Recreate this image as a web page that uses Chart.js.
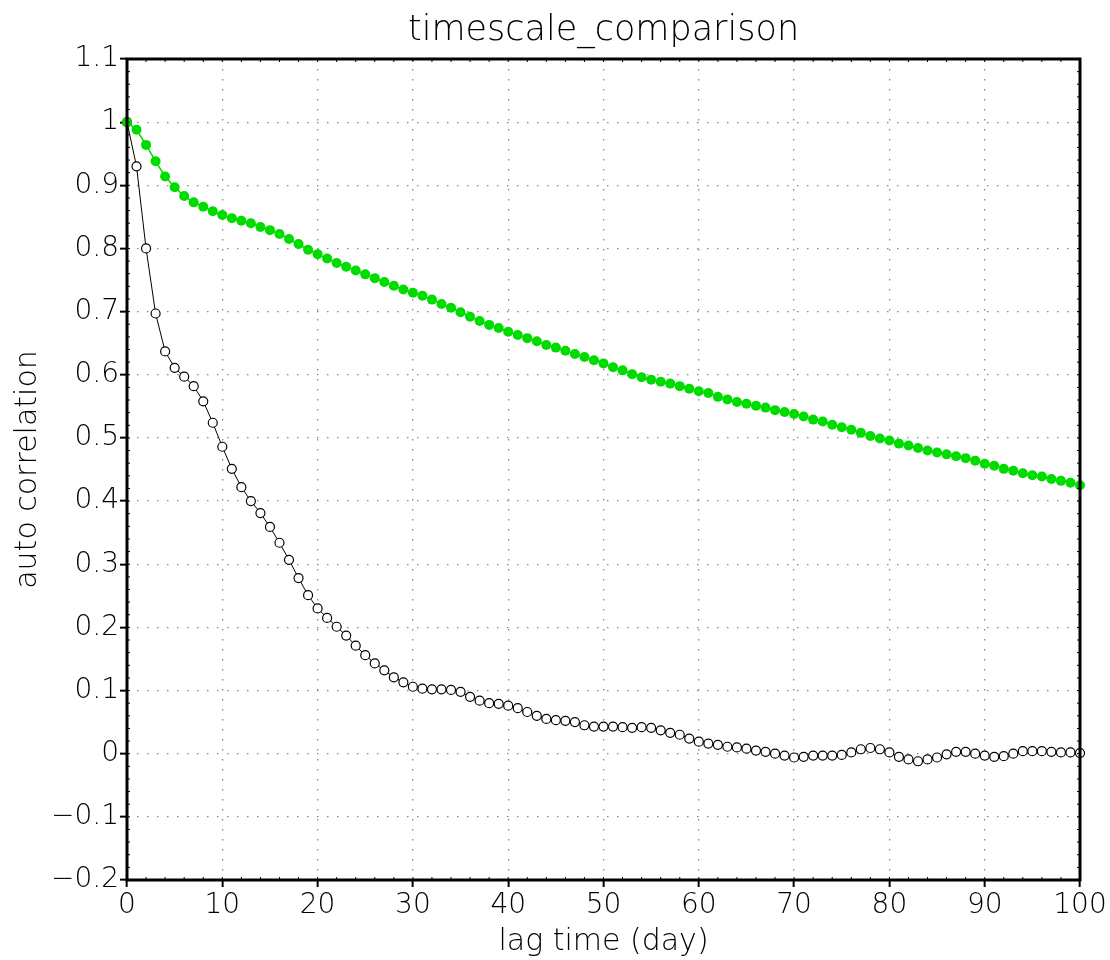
<!DOCTYPE html>
<html lang="en">
<head>
    <meta charset="UTF-8">
    <title>timescale_comparison</title>
    <script src="https://cdn.jsdelivr.net/npm/chart.js"></script>
    <style>
        body { margin: 0; background: #fff; }
    </style>
</head>
<body>
    <canvas id="myChart" width="1110" height="960"></canvas>
    <script>
    // lag time in days
    const lagDays = [0,1,2,3,4,5,6,7,8,9,10,11,12,13,14,15,16,17,18,19,20,21,22,23,24,25,26,27,28,29,30,31,32,33,34,35,36,37,38,39,40,41,42,43,44,45,46,47,48,49,50,51,52,53,54,55,56,57,58,59,60,61,62,63,64,65,66,67,68,69,70,71,72,73,74,75,76,77,78,79,80,81,82,83,84,85,86,87,88,89,90,91,92,93,94,95,96,97,98,99,100];

    // green series (slow decay)
    const greenCorr = [1.000,0.988,0.964,0.938,0.914,0.897,0.883,0.873,0.866,0.859,
        0.853,0.848,0.844,0.840,0.834,0.829,0.823,0.815,0.807,0.798,
        0.791,0.784,0.777,0.771,0.765,0.759,0.753,0.747,0.741,0.735,
        0.730,0.725,0.719,0.712,0.706,0.699,0.692,0.685,0.679,0.674,
        0.668,0.663,0.658,0.653,0.647,0.643,0.638,0.633,0.628,0.623,
        0.618,0.612,0.607,0.601,0.596,0.592,0.589,0.586,0.582,0.578,
        0.574,0.571,0.565,0.561,0.557,0.554,0.551,0.548,0.544,0.541,
        0.538,0.534,0.529,0.526,0.521,0.517,0.513,0.508,0.503,0.499,
        0.496,0.491,0.488,0.484,0.480,0.477,0.474,0.471,0.468,0.464,
        0.459,0.456,0.451,0.448,0.444,0.441,0.439,0.435,0.432,0.429,
        0.425];

    // black series (fast decay)
    const blackCorr = [1.000,0.930,0.800,0.697,0.637,0.611,0.597,0.582,0.558,0.524,
        0.486,0.451,0.422,0.400,0.381,0.359,0.334,0.307,0.278,0.251,
        0.230,0.215,0.201,0.187,0.171,0.156,0.143,0.132,0.121,0.113,
        0.106,0.103,0.102,0.102,0.101,0.098,0.090,0.084,0.080,0.079,
        0.076,0.072,0.066,0.060,0.055,0.053,0.052,0.050,0.045,0.043,
        0.043,0.043,0.042,0.041,0.042,0.041,0.037,0.033,0.030,0.024,
        0.019,0.016,0.014,0.011,0.010,0.008,0.005,0.003,0.000,-0.003,
        -0.006,-0.005,-0.003,-0.003,-0.003,-0.002,0.002,0.007,0.009,0.007,
        0.002,-0.005,-0.009,-0.012,-0.009,-0.006,-0.001,0.003,0.003,0.000,
        -0.003,-0.005,-0.004,0.000,0.004,0.004,0.004,0.003,0.002,0.002,
        0.001];

    // tick labels
    const xTicks = [0,10,20,30,40,50,60,70,80,90,100];
    const xTickLabels = ['0','10','20','30','40','50','60','70','80','90','100'];
    const yTicks = [-0.2,-0.1,0,0.1,0.2,0.3,0.4,0.5,0.6,0.7,0.8,0.9,1.0,1.1];
    const yTickLabels = ['\u22120.2','\u22120.1','0','0.1','0.2','0.3','0.4','0.5','0.6','0.7','0.8','0.9','1','1.1'];

    const FONT = "'DejaVu Sans', 'Noto Sans', sans-serif";

    // frame + small inside ticks, like the original plot
    const frame = {
        id: 'frame',
        afterDraw(chart) {
            const {ctx, chartArea: a, scales: {x, y}} = chart;
            ctx.save();
            ctx.strokeStyle = '#000';
            ctx.lineWidth = 1;
            ctx.beginPath();
            for (let v = 2; v < 100; v += 2) {
                const px = x.getPixelForValue(v);
                ctx.moveTo(px, a.bottom); ctx.lineTo(px, a.bottom - 3);
                ctx.moveTo(px, a.top); ctx.lineTo(px, a.top + 3);
            }
            for (let i = -9; i < 55; i++) {
                const py = y.getPixelForValue(i * 0.02);
                if (py <= a.top || py >= a.bottom) continue;
                ctx.moveTo(a.left, py); ctx.lineTo(a.left + 3, py);
                ctx.moveTo(a.right, py); ctx.lineTo(a.right - 3, py);
            }
            ctx.stroke();
            ctx.lineWidth = 3;
            ctx.strokeRect(a.left, a.top, a.right - a.left, a.bottom - a.top);
            ctx.restore();
        }
    };

    const ctx = document.getElementById('myChart').getContext('2d');
    const myChart = new Chart(ctx, {
        type: 'line',
        data: {
            datasets: [{
                label: 'green',
                data: lagDays.map((d, i) => ({x: d, y: greenCorr[i]})),
                borderColor: 'rgb(0, 220, 0)',
                backgroundColor: 'rgb(0, 220, 0)',
                borderWidth: 1.5,
                pointRadius: 5,
                pointBorderWidth: 0,
                pointBackgroundColor: 'rgb(0, 220, 0)',
                tension: 0
            }, {
                label: 'black',
                data: lagDays.map((d, i) => ({x: d, y: blackCorr[i]})),
                borderColor: '#000',
                borderWidth: 1,
                pointRadius: 4.5,
                pointBorderWidth: 1.2,
                pointBorderColor: '#000',
                pointBackgroundColor: '#fff',
                tension: 0
            }]
        },
        options: {
            responsive: false,
            animation: false,
            clip: false,
            layout: { padding: { left: 0, right: 30, top: 0, bottom: 0 } },
            scales: {
                x: {
                    type: 'linear',
                    min: 0,
                    max: 100,
                    afterBuildTicks: s => { s.ticks = xTicks.map(v => ({value: v})); },
                    afterFit: s => { s.height = 80; },
                    ticks: {
                        callback: (v, i) => xTickLabels[i],
                        color: '#000',
                        padding: 2,
                        maxRotation: 0,
                        font: { family: FONT, size: 28, weight: 200 }
                    },
                    grid: {
                        color: '#888',
                        lineWidth: 1.3,
                        tickLength: 7,
                        tickColor: '#000',
                        tickWidth: 2
                    },
                    border: { display: false, dash: [1.5, 8.5] },
                    title: {
                        display: true,
                        text: 'lag time (day)',
                        color: '#000',
                        padding: { top: 0, bottom: 0 },
                        font: { family: FONT, size: 30, weight: 200 }
                    }
                },
                y: {
                    type: 'linear',
                    min: -0.2,
                    max: 1.1,
                    afterBuildTicks: s => { s.ticks = yTicks.map(v => ({value: v})); },
                    afterFit: s => { s.width = 127; },
                    ticks: {
                        callback: (v, i) => yTickLabels[i],
                        color: '#000',
                        padding: 1,
                        font: { family: FONT, size: 28, weight: 200 }
                    },
                    grid: {
                        color: '#888',
                        lineWidth: 1.3,
                        tickLength: 7,
                        tickColor: '#000',
                        tickWidth: 2
                    },
                    border: { display: false, dash: [1.5, 8.5] },
                    title: {
                        display: true,
                        text: 'auto correlation',
                        color: '#000',
                        padding: { top: 10, bottom: 0 },
                        font: { family: FONT, size: 30, weight: 200 }
                    }
                }
            },
            plugins: {
                legend: { display: false },
                tooltip: { enabled: false },
                title: {
                    display: true,
                    fullSize: false,
                    text: 'timescale_comparison',
                    color: '#000',
                    font: { family: FONT, size: 35, weight: 200 },
                    padding: { top: 10, bottom: 7 }
                }
            }
        },
        plugins: [frame]
    });
    </script>
</body>
</html>
